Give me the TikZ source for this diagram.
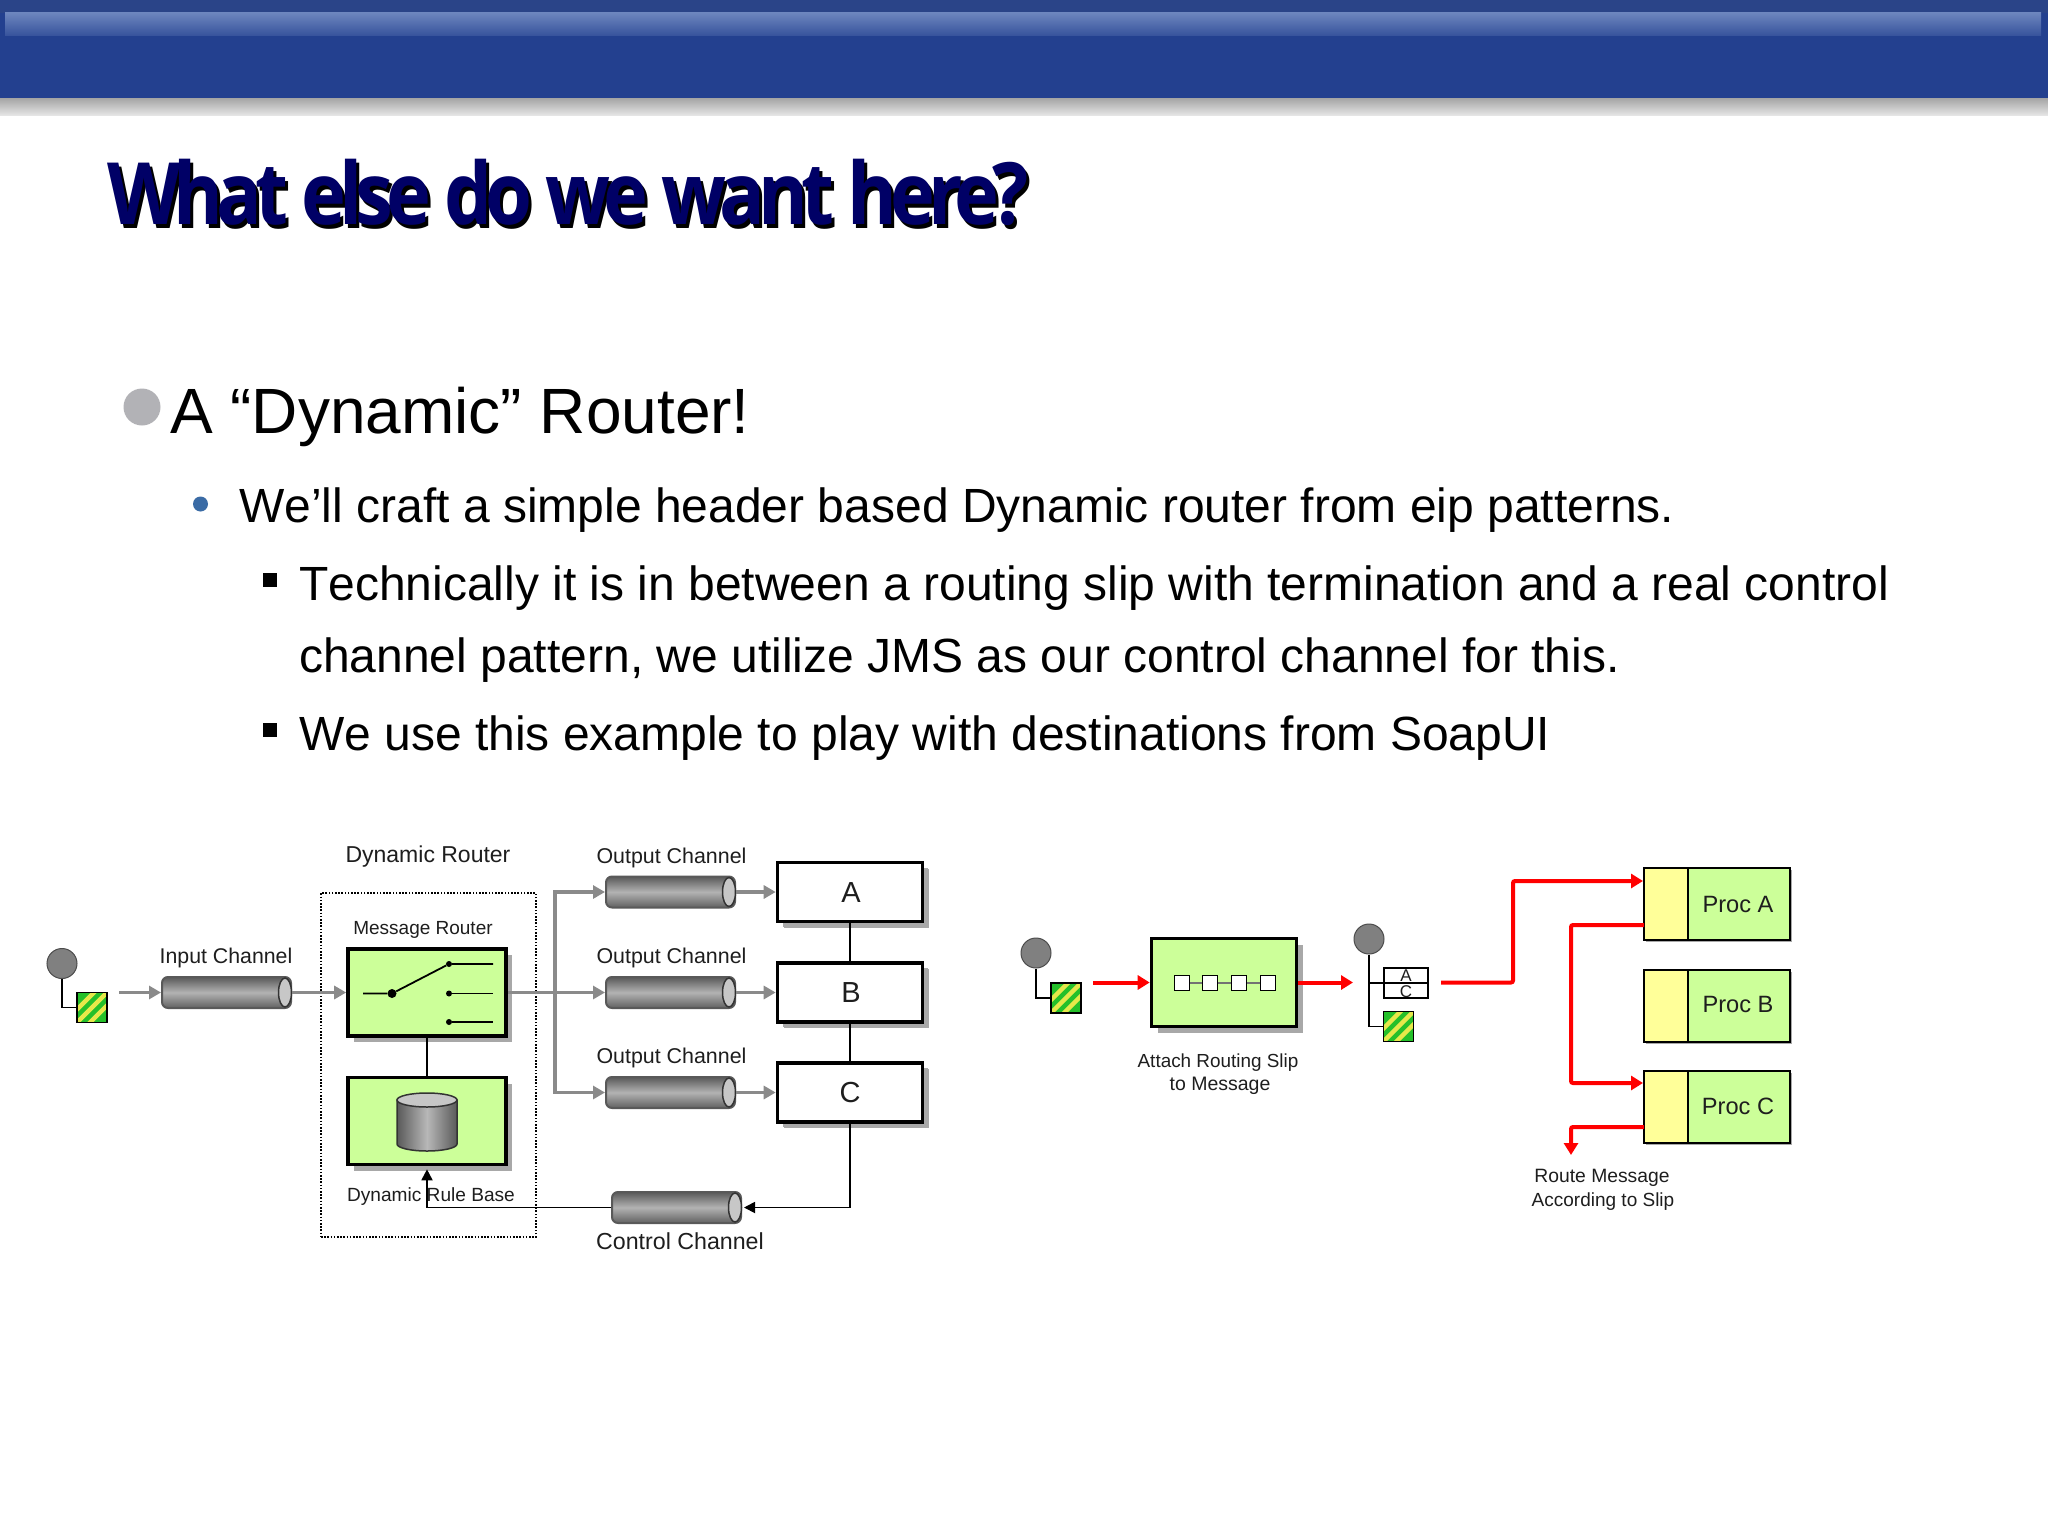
\documentclass[tikz,border=0pt]{standalone}
\usepackage{graphicx}
\usepackage{fontspec}
\setmainfont[Kerning=Off]{Liberation Sans}
\newfontfamily\titlefont[LetterSpace=-9]{Open Sans}
\usetikzlibrary{arrows.meta,shadows,calc}
\definecolor{hdr}{HTML}{23408F}
\definecolor{hdrtop}{HTML}{2A4488}
\definecolor{hdrhi}{HTML}{7F97CA}
\definecolor{navy}{HTML}{000066}
\definecolor{pgreen}{HTML}{CCFF99}
\definecolor{pyellow}{HTML}{FFFF99}
\definecolor{shad}{HTML}{A8A8A8}
\definecolor{ink}{HTML}{1E1E1E}
\definecolor{arrowgray}{HTML}{8A8A8A}
\definecolor{sgreen}{HTML}{25C02A}
\definecolor{syellow}{HTML}{E6E84A}
\definecolor{bulblue}{HTML}{3A6BA5}
\definecolor{bulgray}{HTML}{B2B2B6}
\tikzset{
  x=1pt,y=-1pt,
  lbl/.style={anchor=base,inner sep=0pt,text=ink,font=\fontsize{#1}{#1}\selectfont},
  body/.style={anchor=base west,inner sep=0pt,text=black,font=\fontsize{#1}{#1}\selectfont},
  thickbox/.style={draw=black,line width=3.6pt,inner sep=0pt,
    drop shadow={shadow xshift=6pt,shadow yshift=-6pt,fill=shad,opacity=1}},
  procbox/.style={draw=black,line width=2pt,inner sep=0pt,minimum height=72pt,
    drop shadow={shadow xshift=2pt,shadow yshift=-2pt,fill=shad,opacity=1}},
  chanbody/.style={draw=black!65,line width=2pt,rounded corners=6pt,inner sep=0pt,
    minimum width=129pt,minimum height=31pt,
    top color=black!65,bottom color=black!62,middle color=black!30},
  chanend/.style={draw=black!80,line width=1.5pt,fill=black!22},
  endpoint/.style={circle,draw=black!70,line width=1pt,fill=black!50,minimum size=30pt,inner sep=0pt},
  wire/.style={draw=black,line width=1.8pt},
  grayarrow/.style={draw=arrowgray,line width=3.5pt,-{Triangle[length=12pt,width=13pt]}},
  redarrow/.style={draw=red,line width=4pt,rounded corners=2pt,-{Triangle[length=12pt,width=14pt]}},
  blackarrow/.style={draw=black,line width=1.8pt,-{Triangle[length=11pt,width=11pt]}},
  msgbox/.style={draw=black,line width=1.8pt,fill=sgreen,minimum size=30pt,inner sep=0pt,
    path picture={
      \foreach \d in {-13,0,13}
        \draw[syellow,line width=4.5pt] ([xshift=\d pt]path picture bounding box.center) ++(-22,22) -- ++(44,-44);
    }},
  tick/.style={draw=black,line width=1.8pt,fill=white,minimum size=15pt,inner sep=0pt},
  swdot/.style={circle,fill=black,inner sep=0pt,minimum size=#1},
  lettbox/.style={thickbox,fill=white,minimum width=145pt,minimum height=59pt,
    drop shadow={shadow xshift=5pt,shadow yshift=-5pt,fill=shad,opacity=1}},
  greenbox/.style={thickbox,fill=pgreen,minimum width=158pt,minimum height=87pt},
}
\newcommand{\chan}[3]{%
  \node[chanbody] (#1) at (#2,#3) {};
  \draw[chanend] ([xshift=-7pt]#1.east) ellipse [x radius=6.5pt,y radius=14.5pt];
}
\newcommand{\titletext}{What else do we want here?}
\begin{document}
\begin{tikzpicture}
\useasboundingbox (0,0) rectangle (2048,1536);
\fill[white] (0,0) rectangle (2048,1536);
% header
\begin{scope}
  \clip (0,97) rectangle (2048,116);
  \shade[top color=black!46,bottom color=white] (0,91) rectangle (2048,122);
\end{scope}
\fill[hdr] (0,0) rectangle (2048,98);
\fill[hdrtop] (0,0) rectangle (2048,13);
\begin{scope}
  \clip (5,13) rectangle (2041,36);
  \shade[top color=hdrhi,bottom color=hdr] (5,5) rectangle (2041,44);
\end{scope}
% title
\node[anchor=base west,inner sep=0pt,text=navy] (title) at (107,224.5)
  {\scalebox{0.882}[1]{\fontsize{86}{86}\selectfont\titlefont\bfseries
   \rlap{\kern3.5pt\raisebox{-3.5pt}{\textcolor{black}{\titletext}}}\titletext}};
% body text
\node[circle,fill=bulgray,minimum size=37pt,inner sep=0pt] (b1) at (142,407) {};
\node[circle,fill=bulblue,minimum size=15pt,inner sep=0pt] (b2) at (200.5,504) {};
\node[fill=black,minimum size=14.5pt,inner sep=0pt] (b3) at (270,580) {};
\node[fill=black,minimum size=14.5pt,inner sep=0pt] (b4) at (270,730) {};
\node[body=64] (t1) at (170,433.7) {A “Dynamic” Router!};
\node[body=48] (t2) at (239,522.7) {We’ll craft a simple header based Dynamic router from eip patterns.};
\node[body=48] (t3) at (299,600.7) {Technically it is in between a routing slip with termination and a real control};
\node[body=48] (t4) at (299,672.7) {channel pattern, we utilize JMS as our control channel for this.};
\node[body=48] (t5) at (299,750.7) {We use this example to play with destinations from SoapUI};
% ---- left diagram
\node[draw=black,line width=1.6pt,dash pattern=on 1.6pt off 1.6pt,minimum width=215pt,minimum height=344pt,inner sep=0pt] (dr) at (428.5,1065) {};
\node[endpoint] (e1) at (62,963.5) {};
\node[msgbox] (m1) at (92,1007.5) {};
\draw[wire] (e1.south) |- (m1.west);
\coordinate (inS) at (119,992.5);
\chan{ic}{226.5}{992.5}
\node[greenbox] (mr) at (427,992.5) {};
\node[greenbox] (rb) at (427,1121) {};
\draw[grayarrow] (inS) -- (ic.west);
\draw[grayarrow] (ic.east) -- (mr.west);
\draw[wire] (mr.south) -- (rb.north);
% switch
\coordinate (swA) at (363,993.5);
\node[swdot=9pt] (swB) at (392,993.5) {};
\node[swdot=6pt] (sw1) at (449,964) {};
\node[swdot=6pt] (sw2) at (449,993.5) {};
\node[swdot=6pt] (sw3) at (449,1022) {};
\coordinate (sw1e) at (493,964);
\coordinate (sw2e) at (493,993.5);
\coordinate (sw3e) at (493,1022);
\draw[wire] (swA) -- (swB) -- (sw1) -- (sw1e);
\draw[wire] (sw2) -- (sw2e);
\draw[wire] (sw3) -- (sw3e);
% database
\shade[left color=black!65,right color=black!65,middle color=black!28,draw=black!80,line width=1.5pt]
  (397,1100) -- (397,1144) arc[start angle=180,end angle=360,x radius=30pt,y radius=7pt] -- (457,1100) -- cycle;
\draw[chanend] (427,1100) ellipse [x radius=30pt,y radius=7pt];
% outputs
\chan{o1}{670.5}{892}
\chan{o2}{670.5}{992.5}
\chan{o3}{670.5}{1092.5}
\chan{cc}{676.5}{1207.5}
\node[lettbox] (ba) at (850,892) {};
\node[lettbox] (bb) at (850,992.5) {};
\node[lettbox] (bc) at (850,1092.5) {};
\coordinate (sp) at (555,992.5);
\draw[grayarrow] (mr.east) -- (o2.west);
\draw[grayarrow] (sp) |- (o1.west);
\draw[grayarrow] (sp) |- (o3.west);
\draw[grayarrow] (o1.east) -- (ba.west);
\draw[grayarrow] (o2.east) -- (bb.west);
\draw[grayarrow] (o3.east) -- (bc.west);
\draw[wire] (ba.south) -- (bb.north);
\draw[wire] (bb.south) -- (bc.north);
\draw[blackarrow] (bc.south) |- ([xshift=2pt]cc.east);
\draw[blackarrow,shorten >=3pt] (cc.west) -| (rb.south);
% labels left
\node[lbl=23] (l1) at (428,862.5) {Dynamic Router};
\node[lbl=19] (l2) at (423,934.5) {Message Router};
\node[lbl=21.3] (l3) at (226,963) {Input Channel};
\node[lbl=19.1] (l4) at (431,1201.5) {Dynamic Rule Base};
\node[lbl=21.4] (l5) at (671.5,863) {Output Channel};
\node[lbl=21.4] (l6) at (671.5,963) {Output Channel};
\node[lbl=21.4] (l7) at (671.5,1063) {Output Channel};
\node[lbl=23.2] (l8) at (680,1249) {Control Channel};
\node[lbl=29] (la) at (851,902.5) {A};
\node[lbl=29] (lb) at (851,1002.5) {B};
\node[lbl=29] (lc) at (850,1102.5) {C};
% ---- right diagram
\node[endpoint] (e2) at (1036,953) {};
\node[msgbox] (m2) at (1066,998) {};
\draw[wire] (e2.south) |- (m2.west);
\node[thickbox,fill=pgreen,minimum width=145pt,minimum height=88pt] (rs) at (1224,982.5) {};
\draw[draw=black!55,line width=1.5pt] (1182,983) -- (1268,983);
\node[tick] (k1) at (1182,983) {};
\node[tick] (k2) at (1210,983) {};
\node[tick] (k3) at (1239,983) {};
\node[tick] (k4) at (1268,983) {};
\coordinate (rin) at (1093,982.5);
\coordinate (rout) at (1353,982.5);
\draw[redarrow] (rin) -- (rs.west);
\draw[redarrow] (rs.east) -- (rout);
\node[endpoint] (e3) at (1369,939) {};
\node[draw=black,line width=1.8pt,fill=white,minimum width=44pt,minimum height=30pt,inner sep=0pt] (sl) at (1406,983) {};
\node[msgbox] (m3) at (1398.5,1026.5) {};
\draw[wire] (e3.south) |- (m3.west);
\draw[wire] (e3.south |- sl.west) -- (sl.east);
\node[lbl=17] (sa) at (1406,981.5) {A};
\node[lbl=17] (sc) at (1406,997.5) {C};
% processors
\node[procbox,fill=pyellow,minimum width=45pt] (ya) at (1666.5,904) {};
\node[procbox,fill=pgreen,minimum width=102pt] (ga) at (1738.5,904) {};
\node[procbox,fill=pyellow,minimum width=45pt] (yb) at (1666.5,1005.5) {};
\node[procbox,fill=pgreen,minimum width=102pt] (gb) at (1738.5,1005.5) {};
\node[procbox,fill=pyellow,minimum width=45pt] (yc) at (1666.5,1106.5) {};
\node[procbox,fill=pgreen,minimum width=102pt] (gc) at (1738.5,1106.5) {};
\node[lbl=23.6] (pa) at (1738,912) {Proc A};
\node[lbl=23.6] (pb) at (1738,1012) {Proc B};
\node[lbl=23.6] (pc) at (1738,1114) {Proc C};
\coordinate (s1) at (1441,982.5);
\coordinate (c1) at (1513,982.5);
\coordinate (c2) at (1513,881);
\coordinate (c3) at (1643,881);
\draw[redarrow] (s1) -- (c1) -- (c2) -- (c3);
\coordinate (d0) at (1644,925);
\coordinate (d1) at (1571,925);
\coordinate (d2) at (1571,1083);
\coordinate (d3) at (1643,1083);
\draw[redarrow] (d0) -- (d1) -- (d2) -- (d3);
\coordinate (f0) at (1644,1127);
\coordinate (f1) at (1571,1127);
\coordinate (f2) at (1571,1155);
\draw[redarrow] (f0) -- (f1) -- (f2);
\node[lbl=18.9] (r1) at (1218,1067.5) {Attach Routing Slip};
\node[lbl=19.5] (r2) at (1220,1090.5) {to Message};
\node[lbl=19.3] (r3) at (1602,1182.5) {Route Message};
\node[lbl=19] (r4) at (1603,1206.5) {According to Slip};
\end{tikzpicture}
\end{document}
